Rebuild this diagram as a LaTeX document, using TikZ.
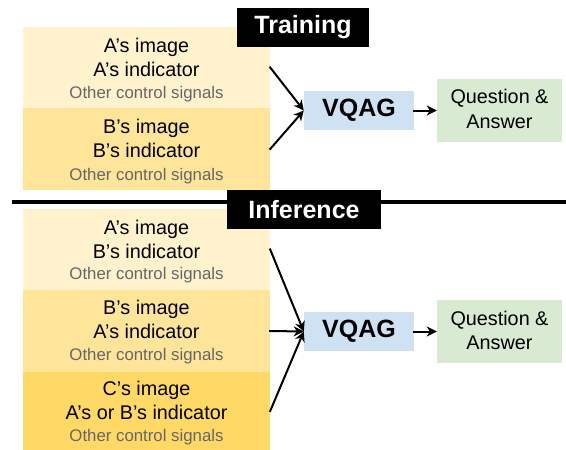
\documentclass[tikz,border=0pt]{standalone}
\usepackage{fontspec}
\setmainfont{Liberation Sans}
\usetikzlibrary{arrows.meta}
\definecolor{ylA}{HTML}{FFF2CC}
\definecolor{ylB}{HTML}{FFE599}
\definecolor{ylC}{HTML}{FFD966}
\definecolor{blueA}{HTML}{CFE2F3}
\definecolor{greenA}{HTML}{D9EAD3}
\definecolor{grayT}{HTML}{666666}
\tikzset{
  inbox/.style={inner sep=0pt, minimum width=247pt},
  maintxt/.style={anchor=base, inner sep=0pt, font=\fontsize{19.8}{23}\selectfont},
  subtxt/.style={anchor=base, inner sep=0pt, text=grayT, font=\fontsize{16.8}{19}\selectfont},
  lab/.style={fill=black, text=white, inner sep=0pt, minimum height=39pt, font=\fontsize{25}{30}\selectfont\bfseries},
  vqag/.style={fill=blueA, inner sep=0pt, minimum width=110pt, minimum height=39pt, font=\fontsize{25}{30}\selectfont\bfseries},
  qa/.style={fill=greenA, inner sep=0pt, minimum width=125pt, minimum height=63pt},
  arr/.style={-{Stealth[length=10pt,width=10pt,inset=3pt]}, line width=2pt, shorten <=-1pt},
}
\begin{document}
\begin{tikzpicture}[x=1pt,y=-1pt]
\useasboundingbox (0,0) rectangle (566,450);
% ---------- Training ----------
\node[inbox, fill=ylA, minimum height=81pt] (ta) at (146.5,67.5) {};
\node[inbox, fill=ylB, minimum height=82pt] (tb) at (146.5,149) {};
\node[maintxt] (ta1) at (146.5,52) {A’s image};
\node[maintxt] (ta2) at (146.5,76) {A’s indicator};
\node[subtxt] (ta3) at (146.5,98) {Other control signals};
\node[maintxt] (tb1) at (146.5,133) {B’s image};
\node[maintxt] (tb2) at (146.5,157) {B’s indicator};
\node[subtxt] (tb3) at (146.5,180) {Other control signals};
\node[lab, minimum width=132pt] (trn) at (303,27.5) {Training};
\node[vqag] (vt) at (359,110.5) {VQAG};
\node[qa] (qt) at (499.5,110.5) {};
\node[maintxt] (qt1) at (499.5,103) {Question \&};
\node[maintxt] (qt2) at (499.5,128) {Answer};
\draw[arr] (ta.east) -- (vt.west);
\draw[arr] (tb.east) -- (vt.west);
\draw[arr] (vt.east) -- (qt.west);
% ---------- divider ----------
\coordinate (dl) at (12,202);
\coordinate (dr) at (566,202);
\draw[line width=4.5pt] (dl) -- (dr);
% ---------- Inference ----------
\node[inbox, fill=ylA, minimum height=81pt] (ia) at (146.5,249.5) {};
\node[inbox, fill=ylB, minimum height=82pt] (ib) at (146.5,331) {};
\node[inbox, fill=ylC, minimum height=78pt] (ic) at (146.5,411) {};
\node[maintxt] (ia1) at (146.5,234) {A’s image};
\node[maintxt] (ia2) at (146.5,258) {B’s indicator};
\node[subtxt] (ia3) at (146.5,279) {Other control signals};
\node[maintxt] (ib1) at (146.5,314) {B’s image};
\node[maintxt] (ib2) at (146.5,338) {A’s indicator};
\node[subtxt] (ib3) at (146.5,360) {Other control signals};
\node[maintxt] (ic1) at (146.5,395) {C’s image};
\node[maintxt] (ic2) at (146.5,419) {A’s or B’s indicator};
\node[subtxt] (ic3) at (146.5,441) {Other control signals};
\node[lab, minimum width=154pt] (inf) at (304,209.5) {Inference};
\node[vqag] (vi) at (359,331.5) {VQAG};
\node[qa] (qi) at (499.5,331.5) {};
\node[maintxt] (qi1) at (499.5,325) {Question \&};
\node[maintxt] (qi2) at (499.5,349) {Answer};
\draw[arr] (ia.east) -- (vi.west);
\draw[arr] (ib.east) -- (vi.west);
\draw[arr] (ic.east) -- (vi.west);
\draw[arr] (vi.east) -- (qi.west);
\end{tikzpicture}
\end{document}
